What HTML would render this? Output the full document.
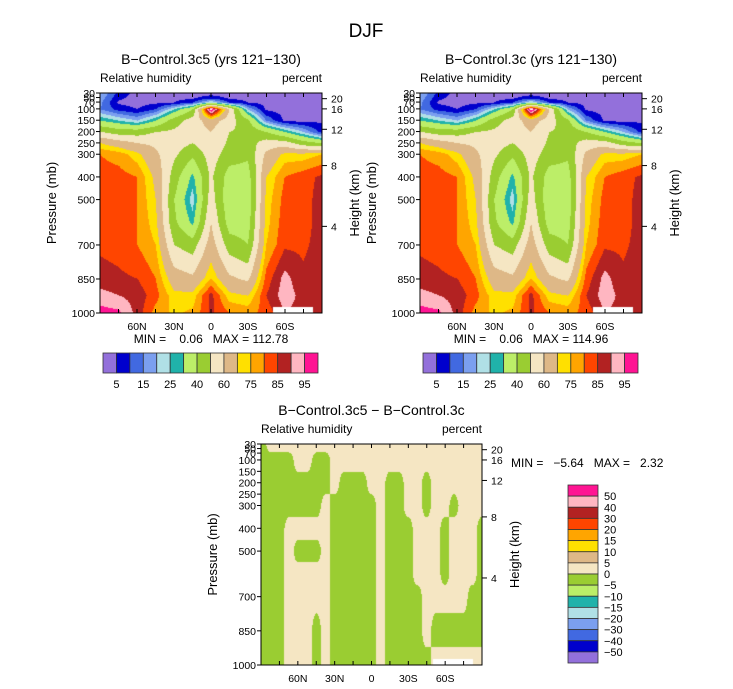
<!DOCTYPE html>
<html><head><meta charset="utf-8">
<style>
html,body{margin:0;padding:0;background:#fff;}
#wrap{position:relative;width:733px;height:689px;overflow:hidden;font-family:"Liberation Sans",sans-serif;}
canvas{position:absolute;}
svg{position:absolute;left:0;top:0;}
svg text{white-space:pre;}
</style></head><body>
<div id="wrap">
<canvas id="cA" width="222" height="220" style="left:100px;top:93px"></canvas>
<canvas id="cB" width="222" height="220" style="left:420px;top:93px"></canvas>
<canvas id="cC" width="221" height="221" style="left:261px;top:444px"></canvas>
<svg id="ov" width="733" height="689"></svg>
</div>
<script>
const lats=[90,75,60,45,30,15,0,-15,-30,-45,-60,-75,-90];
const pres=[30,50,70,100,150,200,250,300,400,500,600,700,850,925,1000];
const rhA=[
[20,8,3,3,3,3,3,3,3,3,3,3,3],
[18,6,3,3,3,4,8,4,3,3,3,3,3],
[16,4,3,4,5,10,25,10,5,3,3,3,3],
[15,8,5,10,25,40,104,60,20,4,3,3,3],
[30,25,20,30,45,55,65,55,42,15,4,3,4],
[50,45,45,50,52,55,60,50,48,40,30,20,8],
[70,65,60,58,55,50,58,48,45,55,55,45,40],
[80,78,72,62,52,42,55,45,42,62,72,72,75],
[82,82,80,68,45,28,52,35,35,70,80,83,86],
[84,83,80,70,40,22,55,32,33,72,82,83,87],
[84,83,80,72,42,28,60,35,35,73,83,83,87],
[84,83,80,75,50,45,65,45,40,75,84,84,87],
[87,86,85,80,65,62,75,62,58,82,92,86,88],
[92,90,88,82,72,72,87,72,70,85,93,88,89],
[97,96,88,78,74,76,86,80,78,82,90,88,89]];
const rhB=[
[20,8,3,3,3,3,3,3,3,3,3,3,3],
[18,6,3,3,3,4,8,4,3,3,3,3,3],
[16,4,3,4,5,10,25,10,5,3,3,3,3],
[15,8,5,10,25,40,105,60,20,4,3,3,3],
[30,25,20,30,45,55,65,55,42,15,4,3,4],
[50,45,45,50,52,55,60,50,48,40,30,20,8],
[70,65,60,58,55,50,58,48,45,55,55,45,40],
[80,78,72,62,52,42,55,45,42,62,72,72,75],
[82,82,80,68,45,28,52,35,35,70,80,83,86],
[84,83,80,70,40,22,55,32,33,72,82,83,87],
[84,83,80,72,42,28,60,35,35,73,83,83,87],
[84,83,80,75,50,45,65,45,40,75,84,84,87],
[87,86,85,80,65,62,75,62,58,82,92,86,88],
[92,90,88,82,72,72,87,72,70,85,93,88,89],
[97,96,88,78,74,76,86,80,78,82,90,88,89]];
const diffLats=[90,82.5,75,67.5,60,52.5,45,37.5,30,22.5,15,7.5,0,-7.5,-15,-22.5,-30,-37.5,-45,-52.5,-60,-67.5,-75,-82.5,-90];
const diffPres=[30,100,200,300,400,500,600,700,850,1000];
const diff=[
[-2,2,2,2,2,2,2,2,2,2,2,2,2,2,2,2,2,2,2,2,2,2,2,2,2],
[-2,-2,-2,-2,2,2,-2,-2,2,2,2,2,2,2,2,2,2,2,2,2,2,2,2,2,2],
[-2,-2,-2,-2,-2,-2,-2,-2,2,-2,-2,-2,2,2,-2,-2,2,2,-2,2,2,2,2,2,2],
[-2,-2,-2,-2,-2,-2,-2,2,-2,-2,-2,-2,-2,2,-2,-2,2,2,-2,2,2,-2,2,2,2],
[-2,-2,-2,2,2,2,2,2,-2,-2,-2,-2,-2,2,-2,-2,-2,2,2,2,-2,2,2,2,-2],
[-2,-2,-2,2,-2,-2,-2,2,-2,-2,-2,-2,-2,2,-2,-2,-2,2,2,2,-2,2,2,2,-2],
[-2,-2,-2,2,2,2,2,2,-2,-2,-2,-2,-2,2,-2,-2,-2,2,2,2,-2,2,2,2,-2],
[-2,-2,-2,2,2,2,2,2,-2,-2,-2,-2,-2,2,-2,-2,-2,-2,2,2,2,2,2,-2,-2],
[-2,-2,-2,2,2,2,-2,2,-2,-2,-2,-2,-2,2,-2,-2,-2,-2,2,-2,-2,-2,-2,-2,-2],
[-2,-2,-2,2,2,2,-2,2,-2,-2,-2,-2,-2,2,-2,-2,-2,-2,-2,2,2,2,2,2,2]];
const rhLevels=[5,10,15,20,25,30,40,50,60,70,75,80,85,90,95];
const diffLevels=[-50,-40,-30,-20,-15,-10,-5,0,5,10,15,20,30,40,50];
const rhBarLabels=["5","15","25","40","60","75","85","95"];
const diffBarLabels=["-50","-40","-30","-20","-15","-10","-5","0","5","10","15","20","30","40","50"];
const presTicks=[30,50,70,100,150,200,250,300,400,500,700,850,1000];
const heightKm=[4,8,12,16,20];
const heightP=[618,350,190,100,55];
const latTicks=[60,30,0,-30,-60];
const latLabels=["60N","30N","0","30S","60S"];
const colors=["#9370DB","#0000CD","#4169E1","#7B9FEF","#B0E0E6","#20B2AA","#BCEE68","#9ACD32","#F5E6C3","#DEB887","#FFE000","#FFA500","#FF4500","#B22222","#FFB6C1","#FF1493"];

function hex(c){return [parseInt(c.substr(1,2),16),parseInt(c.substr(3,2),16),parseInt(c.substr(5,2),16)];}
function sm(t){return t*t*(3-2*t);}
function draw(id,grid,la,pr,levels,whiteAbove,smooth){
  const cv=document.getElementById(id),ctx=cv.getContext('2d');
  const W=cv.width,H=cv.height,img=ctx.createImageData(W,H);
  const nc=la.length;
  for(let y=0;y<H;y++){
    const p=30+y/(H-1)*970;
    let k=0;while(k<pr.length-2&&p>pr[k+1])k++;
    let fy=Math.min(1,Math.max(0,(p-pr[k])/(pr[k+1]-pr[k])));
    for(let x=0;x<W;x++){
      const lat=90-x/(W-1)*180;
      let j=0;while(j<nc-2&&lat<la[j+1])j++;
      let fx=Math.min(1,Math.max(0,(la[j]-lat)/(la[j]-la[j+1])));
      if(smooth)fx=sm(fx);
      const v=(grid[k][j]*(1-fx)+grid[k][j+1]*fx)*(1-fy)+(grid[k+1][j]*(1-fx)+grid[k+1][j+1]*fx)*fy;
      let c;
      if(whiteAbove&&v>100)c=[255,255,255];
      else{let i=0;while(i<levels.length&&v>=levels[i])i++;c=hex(colors[i]);}
      const o=(y*W+x)*4;img.data[o]=c[0];img.data[o+1]=c[1];img.data[o+2]=c[2];img.data[o+3]=255;
    }
  }
  ctx.putImageData(img,0,0);
  ctx.fillStyle='#fff';ctx.fillRect(W-49,H-6,40,6);
}
draw('cA',rhA,lats,pres,rhLevels,true,false);
draw('cB',rhB,lats,pres,rhLevels,true,false);
draw('cC',diff,diffLats,diffPres,diffLevels,false,true);

const NS='http://www.w3.org/2000/svg',svg=document.getElementById('ov');
function el(t,a,par){const e=document.createElementNS(NS,t);for(const k in a)e.setAttribute(k,a[k]);(par||svg).appendChild(e);return e;}
function txt(s,x,y,size,anchor,name,extra){const e=el('text',Object.assign({x:x,y:y,'font-size':size,'text-anchor':anchor||'start',fill:'#000','font-family':'"Liberation Sans",sans-serif'},extra||{}));e.textContent=s;


return e;}

function axes(x0,y0,W,H,title,minmax,titleName){
  const py=p=>y0+(p-30)/970*H, lx=l=>x0+(90-l)/180*W;
  const g=el('g',{});
  
  
  el('rect',{x:x0,y:y0,width:W,height:H,fill:'none',stroke:'#000','stroke-width':1},g);
  txt(title,x0+W/2,y0-29,14,'middle',titleName+'-title');
  txt('Relative humidity',x0,y0-11,12,'start','variable-label');
  txt('percent',x0+W,y0-11,12,'end','units-label');
  presTicks.forEach(p=>{el('line',{x1:x0-4,x2:x0,y1:py(p),y2:py(p),stroke:'#000'},g);
    txt(String(p),x0-5,py(p)+4,10.5,'end','pressure-tick-label');});
  heightKm.forEach((z,i)=>{const y=py(heightP[i]);el('line',{x1:x0+W,x2:x0+W+5,y1:y,y2:y,stroke:'#000'},g);
    txt(String(z),x0+W+9,y+4,10.5,'start','height-tick-label');});
  for(let l=75;l>=-75;l-=15){el('line',{x1:lx(l),x2:lx(l),y1:y0,y2:y0+4,stroke:'#000'},g);el('line',{x1:lx(l),x2:lx(l),y1:y0+H,y2:y0+H-4,stroke:'#000'},g);}
  latTicks.forEach((l,i)=>txt(latLabels[i],lx(l),y0+H+17,10.5,'middle','latitude-tick-label'));
  txt('Pressure (mb)',0,0,13,'middle','y-axis-title',{transform:'translate('+(x0-44)+','+(y0+H/2)+') rotate(-90)'});
  txt('Height (km)',0,0,13,'middle','right-axis-title',{transform:'translate('+(x0+W+37)+','+(y0+H/2)+') rotate(-90)'});
  if(minmax)txt(minmax,x0+W/2,y0+H+30,12,'middle','min-max-label');
}
txt('DJF',366,37,19,'middle','figure-title');
axes(100,93,222,220,'B−Control.3c5 (yrs 121−130)','MIN =    0.06   MAX = 112.78','panel-3c5');
axes(420,93,222,220,'B−Control.3c (yrs 121−130)','MIN =    0.06   MAX = 114.96','panel-3c');
axes(261,444,221,221,'B−Control.3c5 − B−Control.3c',null,'panel-difference');
txt('MIN =   −5.64   MAX =   2.32',511,467,12,'start','difference-min-max');

function hbar(x0,name){
  const w=(318-103)/16;
  colors.forEach((c,i)=>{const r=el('rect',{x:x0+i*w,y:353,width:w,height:20,fill:c,stroke:'#333','stroke-width':0.8});
    
    });
  rhBarLabels.forEach((s,i)=>txt(s,x0+(1+2*i)*w,388,11,'middle',name+'-label'));
}
hbar(103,'colorbar-3c5');hbar(423,'colorbar-3c');
const bh=(663-485)/16;
colors.slice().reverse().forEach((c,i)=>{const r=el('rect',{x:568,y:485+i*bh,width:30,height:bh,fill:c,stroke:'#333','stroke-width':0.8});
  
  });
diffBarLabels.slice().reverse().forEach((s,i)=>txt(s.replace('-','−'),604,485+(i+1)*bh+4,11,'start','colorbar-difference-label'));
</script>
</body></html>
